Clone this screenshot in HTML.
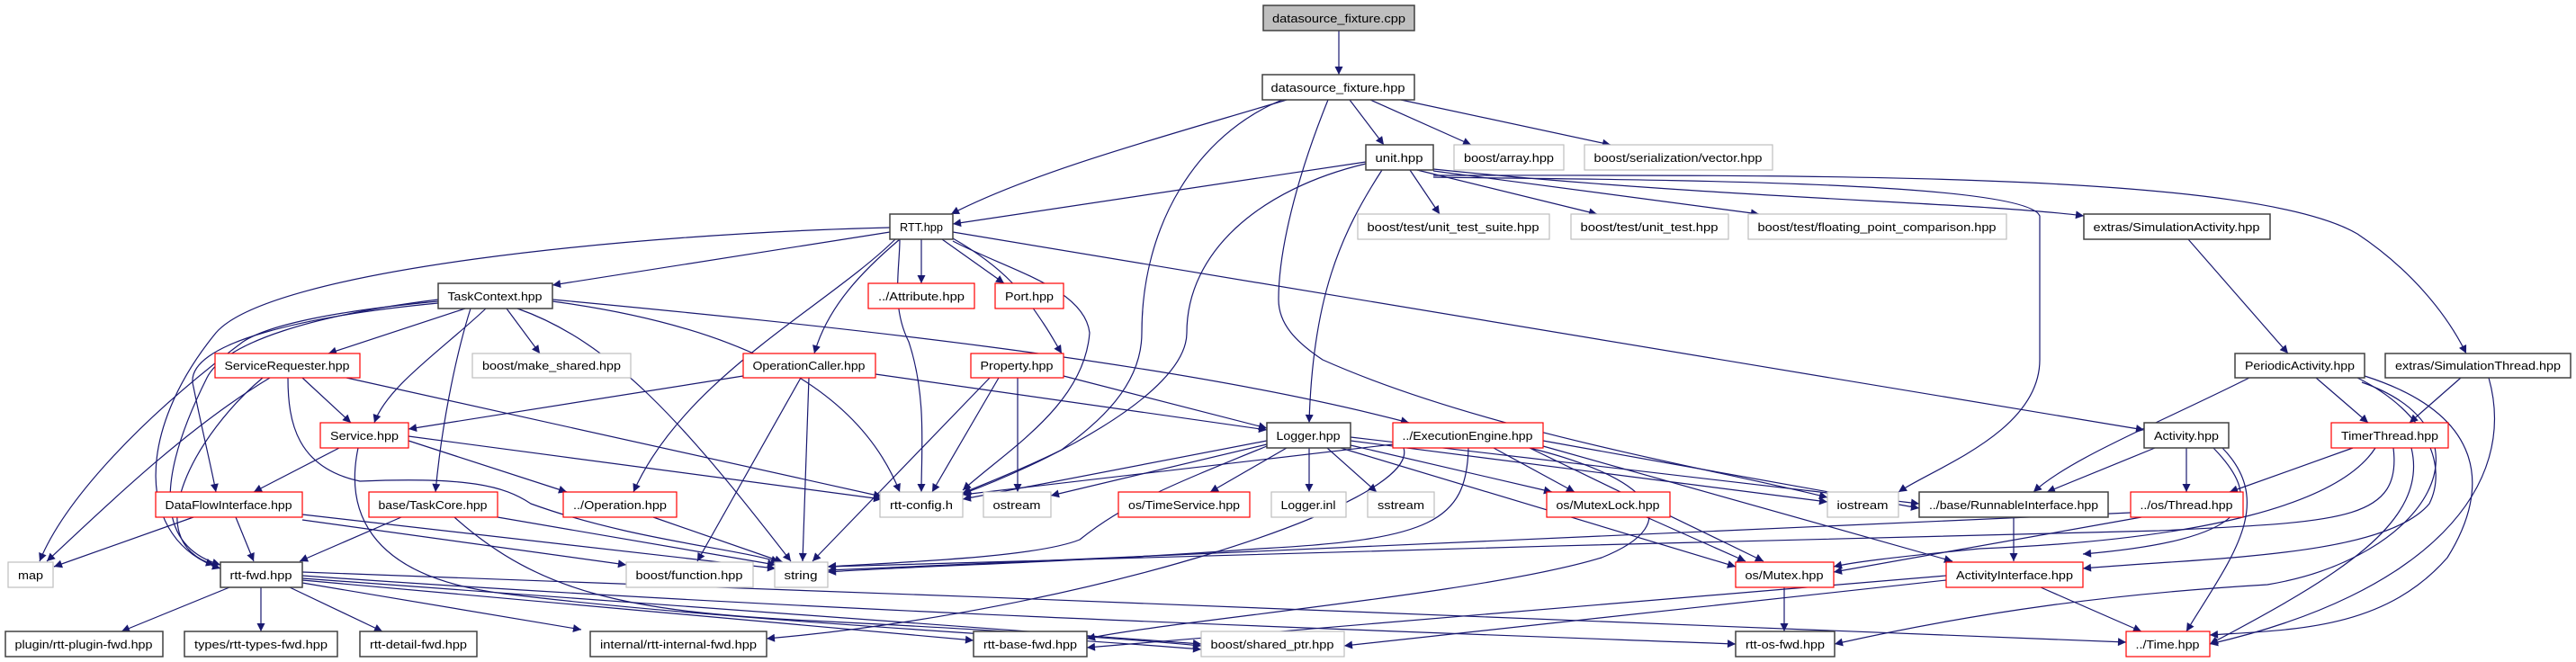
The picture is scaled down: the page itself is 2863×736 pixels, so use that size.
<!DOCTYPE html>
<html><head><meta charset="utf-8"><style>
html,body{margin:0;padding:0;background:#fff;}
svg{display:block;}
text{font-family:"Liberation Sans","DejaVu Sans",sans-serif;font-size:13px;fill:#000;}
.e{fill:none;stroke:#191970;stroke-width:1.2;marker-end:url(#a);}
.k{fill:#fff;stroke:#404040;stroke-width:1.5;}
.g{fill:#fff;stroke:#bfbfbf;stroke-width:1.2;}
.r{fill:#fff;stroke:#ff0000;stroke-width:1.2;}
</style></head><body>
<svg width="2863" height="736" viewBox="0 0 2863 736" xmlns="http://www.w3.org/2000/svg">
<defs><marker id="a" viewBox="0 0 10 10" refX="10" refY="5" markerWidth="11" markerHeight="9" markerUnits="userSpaceOnUse" orient="auto"><path d="M0 0L10 5L0 10z" fill="#191970"/></marker></defs>
<g>
<path class="e" d="M1488 34L1488 83"/>
<path class="e" d="M1430 111C1300 150 1150 190 1057 238"/>
<path class="e" d="M1500 111L1538 161"/>
<path class="e" d="M1523 111L1635 161"/>
<path class="e" d="M1557 111L1790 161"/>
<path class="e" d="M1425 111C1330 150 1269 250 1269 370C1269 430 1220 470 1180 500C1140 520 1090 540 1070 548"/>
<path class="e" d="M1476 111C1440 200 1421 280 1421 333C1421 360 1440 380 1470 400C1650 480 1900 520 2031 553"/>
<path class="e" d="M1593 197C1800 200 2250 200 2267 240L2267 400C2267 480 2150 520 2110 547"/>
<path class="e" d="M1593 195C2000 195 2500 190 2620 260C2680 300 2720 350 2741 393"/>
<path class="e" d="M1593 188C1900 220 2200 225 2316 240"/>
<path class="e" d="M1593 190L1955 238"/>
<path class="e" d="M1575 189L1775 238"/>
<path class="e" d="M1567 189L1600 238"/>
<path class="e" d="M1518 180L1059 249"/>
<path class="e" d="M1536 189C1490 260 1459 330 1455 470"/>
<path class="e" d="M1518 182C1400 210 1319 280 1319 370C1319 440 1150 520 1070 549"/>
<path class="e" d="M1059 258L2383 478"/>
<path class="e" d="M1024 266L1024 315"/>
<path class="e" d="M1047 266L1116 315"/>
<path class="e" d="M1059 265C1120 300 1140 330 1160 360C1170 375 1175 385 1180 393"/>
<path class="e" d="M1059 268C1120 300 1205 320 1211 370C1205 450 1120 500 1070 545"/>
<path class="e" d="M1000 266C1000 300 990 340 1010 380C1030 440 1024 500 1024 547"/>
<path class="e" d="M1000 266C960 300 920 340 905 393"/>
<path class="e" d="M995 266C920 340 760 420 704 547"/>
<path class="e" d="M989 258L614 317"/>
<path class="e" d="M989 253C700 260 300 300 240 370C150 480 150 600 245 632"/>
<path class="e" d="M487 333C350 350 250 380 230 420C160 560 190 612 245 628"/>
<path class="e" d="M487 335C380 345 300 360 270 380C150 470 70 560 44 624"/>
<path class="e" d="M517 343L365 393"/>
<path class="e" d="M563 343L600 393"/>
<path class="e" d="M540 343C490 390 430 430 416 470"/>
<path class="e" d="M487 337C350 350 200 380 215 430C225 480 235 520 240 547"/>
<path class="e" d="M523 343C505 400 490 480 484 547"/>
<path class="e" d="M575 343C680 380 760 470 879 624"/>
<path class="e" d="M614 335C800 360 950 420 1000 547"/>
<path class="e" d="M614 333C900 360 1300 400 1566 470"/>
<path class="e" d="M336 420L390 470"/>
<path class="e" d="M300 420C200 480 100 580 52 624"/>
<path class="e" d="M292 420C220 480 150 600 238 628"/>
<path class="e" d="M385 420L980 552"/>
<path class="e" d="M320 420C320 470 330 520 400 535C520 530 560 540 590 560C700 600 820 610 866 625"/>
<path class="e" d="M826 418L454 477"/>
<path class="e" d="M973 416L1408 478"/>
<path class="e" d="M890 420L775 624"/>
<path class="e" d="M899 420L892 624"/>
<path class="e" d="M1182 418L1408 476"/>
<path class="e" d="M1110 420L1036 547"/>
<path class="e" d="M1131 420L1131 547"/>
<path class="e" d="M1100 420L903 624"/>
<path class="e" d="M377 498L282 547"/>
<path class="e" d="M454 490L630 547"/>
<path class="e" d="M454 485L980 555"/>
<path class="e" d="M398 498C385 560 400 640 560 660C800 690 1200 710 1335 722"/>
<path class="e" d="M215 575L60 630"/>
<path class="e" d="M262 575L282 624"/>
<path class="e" d="M336 578L696 628"/>
<path class="e" d="M336 572L862 632"/>
<path class="e" d="M446 575L333 624"/>
<path class="e" d="M553 575L862 628"/>
<path class="e" d="M505 575C600 660 700 680 900 690C1100 700 1250 710 1335 718"/>
<path class="e" d="M726 575L870 625"/>
<path class="e" d="M255 653L135 702"/>
<path class="e" d="M290 653L290 702"/>
<path class="e" d="M322 653L425 702"/>
<path class="e" d="M336 648L646 700"/>
<path class="e" d="M336 645L1082 712"/>
<path class="e" d="M336 643L1335 716"/>
<path class="e" d="M336 640C900 680 1500 700 1929 716"/>
<path class="e" d="M336 636C1000 660 1800 690 2363 714"/>
<path class="e" d="M1408 490L1070 555"/>
<path class="e" d="M1408 494L1168 551"/>
<path class="e" d="M1430 498L1345 547"/>
<path class="e" d="M1455 498L1455 547"/>
<path class="e" d="M1475 498L1530 547"/>
<path class="e" d="M1501 495L1725 547"/>
<path class="e" d="M1490 498L1929 630"/>
<path class="e" d="M1501 490L2031 558"/>
<path class="e" d="M1501 486L2133 560"/>
<path class="e" d="M1408 496C1300 540 1250 560 1200 600C1150 620 1000 625 920 630"/>
<path class="e" d="M1660 498L1750 547"/>
<path class="e" d="M1700 498C1830 530 1880 580 1780 620C1650 660 1300 690 1208 710"/>
<path class="e" d="M1548 494L1070 550"/>
<path class="e" d="M1632 498C1630 580 1590 600 1400 610C1200 625 1000 630 920 636"/>
<path class="e" d="M1560 498C1580 560 1200 680 852 710"/>
<path class="e" d="M1715 496L2170 624"/>
<path class="e" d="M1715 490L2133 565"/>
<path class="e" d="M1700 498L1960 624"/>
<path class="e" d="M1830 575L1940 624"/>
<path class="e" d="M1983 653L1983 702"/>
<path class="e" d="M2268 653L2380 702"/>
<path class="e" d="M2163 640L1208 720"/>
<path class="e" d="M2163 645L1494 718"/>
<path class="e" d="M2238 575L2238 624"/>
<path class="e" d="M2432 266L2543 393"/>
<path class="e" d="M2500 420C2400 470 2300 510 2260 547"/>
<path class="e" d="M2574 420L2632 470"/>
<path class="e" d="M2620 420C2700 460 2720 520 2700 560C2650 620 2450 620 2315 632"/>
<path class="e" d="M2628 418C2760 460 2770 540 2720 620C2650 700 2550 700 2456 706"/>
<path class="e" d="M2625 425C2780 480 2700 620 2520 650C2350 660 2200 680 2039 716"/>
<path class="e" d="M2766 420C2800 540 2700 660 2456 716"/>
<path class="e" d="M2735 420L2678 470"/>
<path class="e" d="M2395 498L2275 547"/>
<path class="e" d="M2430 498L2430 547"/>
<path class="e" d="M2460 498C2520 560 2500 600 2315 616"/>
<path class="e" d="M2470 498C2530 560 2480 620 2430 702"/>
<path class="e" d="M2615 498L2478 547"/>
<path class="e" d="M2640 498C2600 560 2450 600 2200 610C2100 620 2060 625 2038 630"/>
<path class="e" d="M2660 498C2670 580 2600 580 2400 590C2000 600 1200 620 920 630"/>
<path class="e" d="M2680 498C2700 580 2600 640 2456 716"/>
<path class="e" d="M2368 570L920 634"/>
<path class="e" d="M2380 575L2038 636"/>
</g>
<g>
<rect x="1404" y="6" width="168" height="28" fill="#bfbfbf" stroke="#404040" stroke-width="1.5"/>
<text x="1488" y="25" text-anchor="middle" textLength="148" lengthAdjust="spacingAndGlyphs">datasource_fixture.cpp</text>
<rect class="k" x="1403" y="83" width="169" height="28"/><text x="1487" y="102" text-anchor="middle" textLength="149" lengthAdjust="spacingAndGlyphs">datasource_fixture.hpp</text>
<rect class="k" x="1518" y="161" width="75" height="28"/><text x="1555" y="180" text-anchor="middle" textLength="53" lengthAdjust="spacingAndGlyphs">unit.hpp</text>
<rect class="g" x="1616" y="161" width="122" height="28"/><text x="1677" y="180" text-anchor="middle" textLength="100" lengthAdjust="spacingAndGlyphs">boost/array.hpp</text>
<rect class="g" x="1761" y="161" width="209" height="28"/><text x="1865" y="180" text-anchor="middle" textLength="187" lengthAdjust="spacingAndGlyphs">boost/serialization/vector.hpp</text>
<rect class="k" x="989" y="238" width="70" height="28"/><text x="1024" y="257" text-anchor="middle" textLength="48" lengthAdjust="spacingAndGlyphs">RTT.hpp</text>
<rect class="g" x="1509" y="238" width="213" height="28"/><text x="1615" y="257" text-anchor="middle" textLength="191" lengthAdjust="spacingAndGlyphs">boost/test/unit_test_suite.hpp</text>
<rect class="g" x="1746" y="238" width="175" height="28"/><text x="1833" y="257" text-anchor="middle" textLength="153" lengthAdjust="spacingAndGlyphs">boost/test/unit_test.hpp</text>
<rect class="g" x="1943" y="238" width="287" height="28"/><text x="2086" y="257" text-anchor="middle" textLength="265" lengthAdjust="spacingAndGlyphs">boost/test/floating_point_comparison.hpp</text>
<rect class="k" x="2316" y="238" width="207" height="28"/><text x="2419" y="257" text-anchor="middle" textLength="185" lengthAdjust="spacingAndGlyphs">extras/SimulationActivity.hpp</text>
<rect class="r" x="965" y="315" width="118" height="28"/><text x="1024" y="334" text-anchor="middle" textLength="96" lengthAdjust="spacingAndGlyphs">../Attribute.hpp</text>
<rect class="r" x="1106" y="315" width="76" height="28"/><text x="1144" y="334" text-anchor="middle" textLength="54" lengthAdjust="spacingAndGlyphs">Port.hpp</text>
<rect class="k" x="487" y="315" width="127" height="28"/><text x="550" y="334" text-anchor="middle" textLength="105" lengthAdjust="spacingAndGlyphs">TaskContext.hpp</text>
<rect class="r" x="239" y="393" width="161" height="27"/><text x="319" y="411" text-anchor="middle" textLength="139" lengthAdjust="spacingAndGlyphs">ServiceRequester.hpp</text>
<rect class="g" x="525" y="393" width="176" height="27"/><text x="613" y="411" text-anchor="middle" textLength="154" lengthAdjust="spacingAndGlyphs">boost/make_shared.hpp</text>
<rect class="r" x="826" y="393" width="147" height="27"/><text x="899" y="411" text-anchor="middle" textLength="125" lengthAdjust="spacingAndGlyphs">OperationCaller.hpp</text>
<rect class="r" x="1079" y="393" width="103" height="27"/><text x="1130" y="411" text-anchor="middle" textLength="81" lengthAdjust="spacingAndGlyphs">Property.hpp</text>
<rect class="k" x="2484" y="393" width="144" height="27"/><text x="2556" y="411" text-anchor="middle" textLength="122" lengthAdjust="spacingAndGlyphs">PeriodicActivity.hpp</text>
<rect class="k" x="2651" y="393" width="206" height="27"/><text x="2754" y="411" text-anchor="middle" textLength="184" lengthAdjust="spacingAndGlyphs">extras/SimulationThread.hpp</text>
<rect class="r" x="356" y="470" width="98" height="28"/><text x="405" y="489" text-anchor="middle" textLength="76" lengthAdjust="spacingAndGlyphs">Service.hpp</text>
<rect class="k" x="1408" y="470" width="93" height="28"/><text x="1454" y="489" text-anchor="middle" textLength="71" lengthAdjust="spacingAndGlyphs">Logger.hpp</text>
<rect class="r" x="1548" y="470" width="167" height="28"/><text x="1631" y="489" text-anchor="middle" textLength="145" lengthAdjust="spacingAndGlyphs">../ExecutionEngine.hpp</text>
<rect class="k" x="2383" y="470" width="94" height="28"/><text x="2430" y="489" text-anchor="middle" textLength="72" lengthAdjust="spacingAndGlyphs">Activity.hpp</text>
<rect class="r" x="2591" y="470" width="130" height="28"/><text x="2656" y="489" text-anchor="middle" textLength="108" lengthAdjust="spacingAndGlyphs">TimerThread.hpp</text>
<rect class="r" x="173" y="547" width="163" height="28"/><text x="254" y="566" text-anchor="middle" textLength="141" lengthAdjust="spacingAndGlyphs">DataFlowInterface.hpp</text>
<rect class="r" x="410" y="547" width="143" height="28"/><text x="481" y="566" text-anchor="middle" textLength="121" lengthAdjust="spacingAndGlyphs">base/TaskCore.hpp</text>
<rect class="r" x="626" y="547" width="126" height="28"/><text x="689" y="566" text-anchor="middle" textLength="104" lengthAdjust="spacingAndGlyphs">../Operation.hpp</text>
<rect class="g" x="978" y="547" width="92" height="28"/><text x="1024" y="566" text-anchor="middle" textLength="70" lengthAdjust="spacingAndGlyphs">rtt-config.h</text>
<rect class="g" x="1093" y="547" width="75" height="28"/><text x="1130" y="566" text-anchor="middle" textLength="53" lengthAdjust="spacingAndGlyphs">ostream</text>
<rect class="r" x="1243" y="547" width="146" height="28"/><text x="1316" y="566" text-anchor="middle" textLength="124" lengthAdjust="spacingAndGlyphs">os/TimeService.hpp</text>
<rect class="g" x="1413" y="547" width="83" height="28"/><text x="1454" y="566" text-anchor="middle" textLength="61" lengthAdjust="spacingAndGlyphs">Logger.inl</text>
<rect class="g" x="1520" y="547" width="74" height="28"/><text x="1557" y="566" text-anchor="middle" textLength="52" lengthAdjust="spacingAndGlyphs">sstream</text>
<rect class="r" x="1719" y="547" width="137" height="28"/><text x="1787" y="566" text-anchor="middle" textLength="115" lengthAdjust="spacingAndGlyphs">os/MutexLock.hpp</text>
<rect class="g" x="2031" y="547" width="79" height="28"/><text x="2070" y="566" text-anchor="middle" textLength="57" lengthAdjust="spacingAndGlyphs">iostream</text>
<rect class="k" x="2133" y="547" width="210" height="28"/><text x="2238" y="566" text-anchor="middle" textLength="188" lengthAdjust="spacingAndGlyphs">../base/RunnableInterface.hpp</text>
<rect class="r" x="2368" y="547" width="125" height="28"/><text x="2430" y="566" text-anchor="middle" textLength="103" lengthAdjust="spacingAndGlyphs">../os/Thread.hpp</text>
<rect class="g" x="9" y="625" width="50" height="28"/><text x="34" y="644" text-anchor="middle" textLength="28" lengthAdjust="spacingAndGlyphs">map</text>
<rect class="k" x="245" y="625" width="91" height="28"/><text x="290" y="644" text-anchor="middle" textLength="69" lengthAdjust="spacingAndGlyphs">rtt-fwd.hpp</text>
<rect class="g" x="696" y="625" width="141" height="28"/><text x="766" y="644" text-anchor="middle" textLength="119" lengthAdjust="spacingAndGlyphs">boost/function.hpp</text>
<rect class="g" x="861" y="625" width="59" height="28"/><text x="890" y="644" text-anchor="middle" textLength="37" lengthAdjust="spacingAndGlyphs">string</text>
<rect class="r" x="1929" y="625" width="109" height="28"/><text x="1983" y="644" text-anchor="middle" textLength="87" lengthAdjust="spacingAndGlyphs">os/Mutex.hpp</text>
<rect class="r" x="2163" y="625" width="152" height="28"/><text x="2239" y="644" text-anchor="middle" textLength="130" lengthAdjust="spacingAndGlyphs">ActivityInterface.hpp</text>
<rect class="k" x="6" y="702" width="175" height="28"/><text x="93" y="721" text-anchor="middle" textLength="153" lengthAdjust="spacingAndGlyphs">plugin/rtt-plugin-fwd.hpp</text>
<rect class="k" x="205" y="702" width="170" height="28"/><text x="290" y="721" text-anchor="middle" textLength="148" lengthAdjust="spacingAndGlyphs">types/rtt-types-fwd.hpp</text>
<rect class="k" x="400" y="702" width="130" height="28"/><text x="465" y="721" text-anchor="middle" textLength="108" lengthAdjust="spacingAndGlyphs">rtt-detail-fwd.hpp</text>
<rect class="k" x="656" y="702" width="196" height="28"/><text x="754" y="721" text-anchor="middle" textLength="174" lengthAdjust="spacingAndGlyphs">internal/rtt-internal-fwd.hpp</text>
<rect class="k" x="1082" y="702" width="126" height="28"/><text x="1145" y="721" text-anchor="middle" textLength="104" lengthAdjust="spacingAndGlyphs">rtt-base-fwd.hpp</text>
<rect class="g" x="1335" y="702" width="159" height="28"/><text x="1414" y="721" text-anchor="middle" textLength="137" lengthAdjust="spacingAndGlyphs">boost/shared_ptr.hpp</text>
<rect class="k" x="1929" y="702" width="110" height="28"/><text x="1984" y="721" text-anchor="middle" textLength="88" lengthAdjust="spacingAndGlyphs">rtt-os-fwd.hpp</text>
<rect class="r" x="2363" y="702" width="93" height="28"/><text x="2409" y="721" text-anchor="middle" textLength="71" lengthAdjust="spacingAndGlyphs">../Time.hpp</text>
</g>
</svg>
</body></html>
